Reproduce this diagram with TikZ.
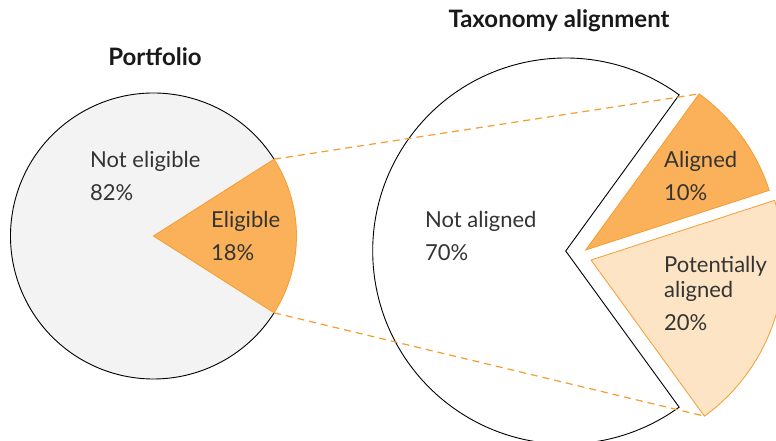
\documentclass[tikz,border=0pt]{standalone}
\usepackage{fontspec}
\setmainfont{Lato}
\usetikzlibrary{positioning}
\definecolor{piegrey}{RGB}{243,243,243}
\definecolor{eligorange}{RGB}{250,177,90}
\definecolor{lightorange}{RGB}{253,228,197}
\definecolor{edgeorange}{RGB}{244,157,48}
\definecolor{labelgrey}{RGB}{52,52,52}
\tikzset{
  pielabel/.style={anchor=base west,inner sep=0pt,align=left,text=labelgrey,
    font=\fontsize{22}{24.6}\selectfont},
  piehead/.style={inner sep=0pt,text=black!90,font=\fontsize{24}{28}\selectfont\bfseries},
  link/.style={edgeorange,dash pattern=on 7pt off 5pt,line width=1.2pt}
}
\begin{document}
\begin{tikzpicture}[x=1pt,y=1pt,yscale=-1,xscale=1]
\clip (0,0) rectangle (776,441);

%Left pie: portfolio
\coordinate (pfcentre) at (153.5,236);
\fill[piegrey] (pfcentre) circle[radius=143];
\draw[line width=0.9pt] (pfcentre) ++(-32.5:143) arc[start angle=-32.5,end angle=-327.5,radius=143];
\fill[eligorange,draw=edgeorange,line width=0.8pt] (pfcentre) -- ++(32.5:143)
  arc[start angle=32.5,end angle=-32.5,radius=143] -- cycle;
\path (pfcentre) ++(-32.5:143) coordinate (eligtop);
\path (pfcentre) ++(32.5:143) coordinate (eligbot);

%Right pie: taxonomy alignment
\coordinate (txcentre) at (565.7,251);
\coordinate (alcentre) at (585.7,250);
\coordinate (pacentre) at (591,260);
\draw[fill=white,line width=0.9pt] (txcentre) -- ++(-54:193)
  arc[start angle=-54,end angle=-306,radius=193] -- cycle;
\fill[eligorange,draw=edgeorange,line width=0.8pt] (alcentre) -- ++(-18:193)
  arc[start angle=-18,end angle=-54,radius=193] -- cycle;
\fill[lightorange,draw=edgeorange,line width=0.8pt] (pacentre) -- ++(54:193)
  arc[start angle=54,end angle=-18,radius=193] -- cycle;
\path (alcentre) ++(-54:193) coordinate (altop);
\path (pacentre) ++(54:193) coordinate (pabot);

%Dashed links
\draw[link] (eligtop) -- (altop);
\draw[link] (eligbot) -- (pabot);

% Text Node
\node[piehead] (pfhead) at (155,57) {Portfolio};
% Text Node
\node[piehead] (txhead) at (559,21) {Taxonomy alignment};
% Text Node
\node[pielabel] (noteligible) at (90,200.7) {Not eligible\\[8.4pt]82\%};
% Text Node
\node[pielabel] (eligible) at (211,260.7) {Eligible\\[8.4pt]18\%};
% Text Node
\node[pielabel] (notaligned) at (425,260.7) {Not aligned\\[8.4pt]70\%};
% Text Node
\node[pielabel] (aligned) at (664,200.7) {Aligned\\[8.4pt]10\%};
% Text Node
\node[pielabel] (potential) at (664,330) {Potentially\\aligned\\[8.4pt]20\%};

\end{tikzpicture}
\end{document}
